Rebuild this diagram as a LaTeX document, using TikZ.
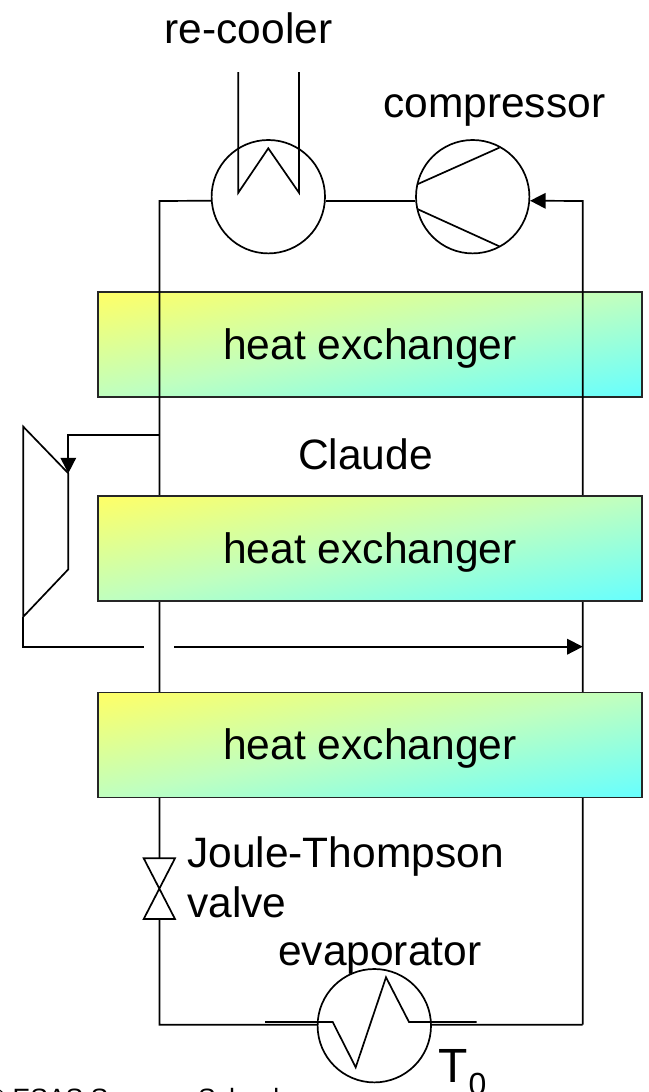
\documentclass[tikz,border=0pt]{standalone}
\usepackage{fontspec}
\setmainfont{Liberation Sans}
\usetikzlibrary{arrows.meta}
\pgfdeclarefunctionalshading{hxgrad}{\pgfpoint{-50bp}{-50bp}}{\pgfpoint{50bp}{50bp}}{}{
  exch 25 add 50 div exch 25 sub neg 50 div add 2 div
  dup 0.5 lt { dup 0.5 mul neg 1 add exch 0.7 mul 0.4 add } { dup 0.7 mul neg 1.1 add exch 0.5 mul 0.5 add } ifelse
  1 exch
}
\newcommand{\hxtext}{\raisebox{-3.5pt}[\height][\depth]{heat exchanger}}
\tikzset{
  pipe/.style={draw=black,line width=1.7pt,line join=miter},
  flow/.style={pipe,-{Triangle[length=15.5pt,width=15.5pt]}},
  unit/.style={circle,draw=black,line width=1.7pt,minimum size=113.4pt,inner sep=0pt},
  hx/.style={draw=black!85,line width=1.7pt,minimum height=105pt,minimum width=544pt,inner sep=0pt,
    shade,shading=hxgrad,shading angle=0,
    font=\fontsize{42.6pt}{48pt}\selectfont,text=black},
  lab/.style={anchor=base west,inner sep=0pt,font=\fontsize{42.5pt}{48pt}\selectfont,text=black}
}
\begin{document}
\begin{tikzpicture}[x=1pt,y=-1pt]
\useasboundingbox (0,0) rectangle (648,1092);
\clip (0,0) rectangle (648,1092);
% first exchanger lies under the pipes
\node[hx] (hxa) at (370,344.5) {\hxtext};
% corners and free ends
\coordinate (tl) at (159.5,201);
\coordinate (tr) at (582.7,201);
\coordinate (bl) at (159.5,1024.7);
\coordinate (br) at (582.7,1024.7);
\coordinate (vt) at (159.5,858.3);
\coordinate (vb) at (159.5,919);
\coordinate (tap) at (159.5,435);
\coordinate (tapb) at (68.3,435);
\coordinate (tin) at (68.3,473.3);
\coordinate (tout) at (23.3,616.7);
\coordinate (rcorner) at (23.3,646.7);
\coordinate (gapa) at (144.3,646.7);
\coordinate (gapb) at (174,646.7);
\coordinate (rjoin) at (582.7,646.7);
\node[unit] (rc) at (268.3,196.7) {};
\node[unit] (cp) at (472.7,196.7) {};
\node[unit] (ev) at (374.3,1025.7) {};
% pipes
\draw[pipe] (rc.184.35) -- (tl) -- (vt);
\draw[pipe] (rc.-4.35) -- (cp.184.35);
\draw[flow] (br) -- (tr) -- (cp.-4.35);
\draw[pipe] (vb) -- (bl) -- (ev.179);
\draw[pipe] (ev.1) -- (br);
\draw[flow] (tap) -- (tapb) -- (tin);
\draw[pipe] (tout) -- (rcorner) -- (gapa);
\draw[flow] (gapb) -- (rjoin);
% other exchangers hide the pipes
\node[hx] (hxb) at (370,548.5) {\hxtext};
\node[hx] (hxc) at (370,745) {\hxtext};
% expansion turbine
\draw[pipe] (23.3,426.7) -- (tin) -- (68.3,569.3) -- (tout) -- cycle;
% valve
\draw[pipe] (143.7,858.3) -- (175,858.3) -- (143.7,919) -- (175,919) -- cycle;
% re-cooler coil
\draw[pipe] (238.3,72) -- (238.3,192.7) -- (268.3,148.3) -- (299,192.7) -- (299,72);
% compressor blades
\draw[pipe] (417.3,184.3) -- (499.3,147.7);
\draw[pipe] (417.3,209) -- (499.3,246.3);
% evaporator coil
\draw[pipe] (265,1022) -- (332.7,1022) -- (355.7,1067.3) -- (386,977.3) -- (409,1022) -- (476.7,1022);
% labels
\node[lab] (lrc) at (164.5,43) {re-cooler};
\node[lab] (lcp) at (383,117) {compressor};
\node[lab] (lcl) at (298,469) {Claude};
\node[lab] (ljt) at (187,867) {Joule-Thompson};
\node[lab] (lva) at (187,917) {valve};
\node[lab] (lev) at (278,965) {evaporator};
\node[lab,font=\fontsize{48pt}{52pt}\selectfont] (lt) at (438.5,1082.7) {T};
\node[lab,font=\fontsize{32pt}{36pt}\selectfont] (lz) at (468.5,1095) {0};
\node[lab,font=\fontsize{26.5pt}{30pt}\selectfont] (lc) at (-14.4,1107) {© ESAS Summer School};
\end{tikzpicture}
\end{document}
